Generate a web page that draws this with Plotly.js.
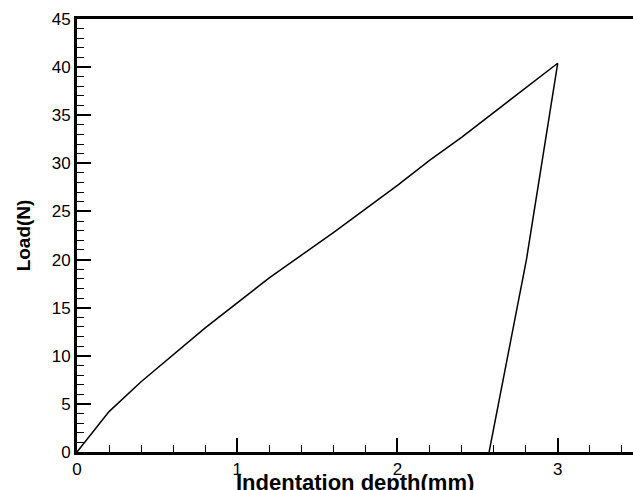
<!DOCTYPE html>
<html>
<head>
<meta charset="utf-8">
<script src="https://cdn.plot.ly/plotly-3.0.1.min.js"></script>
<style>
  html, body { margin: 0; padding: 0; background: #fff; overflow: hidden; }
  #chart { width: 633px; height: 490px; }
</style>
</head>
<body>
<div id="chart"></div>
<script>
// Loading branch
const loadDepth = [0, 0.2, 0.4, 0.8, 1.2, 1.6, 2.0, 2.2, 2.4, 2.6, 2.8, 3.0];
const loadForce = [0, 4.2, 7.3, 12.9, 18.1, 22.8, 27.7, 30.3, 32.7, 35.3, 37.9, 40.4];
// Unloading branch
const unloadDepth = [3.0, 2.805, 2.572];
const unloadForce = [40.4, 20.0, 0];

const xTickVals = [0, 1, 2, 3];
const yTickVals = [0, 5, 10, 15, 20, 25, 30, 35, 40, 45];
const xTitle = 'Indentation depth(mm)';
const yTitle = 'Load(N)';

const FONT = 'Liberation Sans, Arial, sans-serif';

const traces = [{
  x: loadDepth.concat(unloadDepth.slice(1)),
  y: loadForce.concat(unloadForce.slice(1)),
  type: 'scatter',
  mode: 'lines',
  line: { color: '#000', width: 1.5 },
  hoverinfo: 'skip',
  showlegend: false
}];

const layout = {
  width: 633,
  height: 490,
  margin: { l: 77, r: 0, t: 19, b: 38, pad: 0 },
  paper_bgcolor: '#fff',
  plot_bgcolor: '#fff',
  font: { family: FONT, size: 17, color: '#000' },
  showlegend: false,
  xaxis: {
    range: [0, 3.47],
    tickvals: xTickVals,
    ticktext: xTickVals.map(String),
    ticks: 'inside',
    ticklen: 14,
    tickwidth: 2,
    tickcolor: '#000',
    showline: true,
    linecolor: '#000',
    linewidth: 3,
    mirror: true,
    showgrid: false,
    zeroline: false,
    tickfont: { family: FONT, size: 17, color: '#000' },
    minor: { dtick: 0.2, tick0: 0, ticks: 'inside', ticklen: 7, tickwidth: 1, tickcolor: '#000', showgrid: false }
  },
  yaxis: {
    range: [0, 45],
    tickvals: yTickVals,
    ticktext: yTickVals.map(String),
    ticks: 'inside',
    ticklen: 14,
    tickwidth: 2,
    tickcolor: '#000',
    showline: true,
    linecolor: '#000',
    linewidth: 3,
    mirror: false,
    showgrid: false,
    zeroline: false,
    tickfont: { family: FONT, size: 17, color: '#000' },
    minor: { dtick: 1, tick0: 0, ticks: 'inside', ticklen: 7, tickwidth: 1, tickcolor: '#000', showgrid: false },
    title: { text: yTitle, font: { family: FONT, size: 19, color: '#000', weight: 'bold' }, standoff: 17 }
  },
  annotations: [{
    text: xTitle,
    xref: 'paper', yref: 'paper',
    x: 0.5, y: 0,
    xanchor: 'center', yanchor: 'top',
    yshift: -16,
    showarrow: false,
    font: { family: FONT, size: 22, color: '#000', weight: 'bold' }
  }]
};

Plotly.newPlot('chart', traces, layout, { displayModeBar: false, staticPlot: true });
</script>
</body>
</html>
